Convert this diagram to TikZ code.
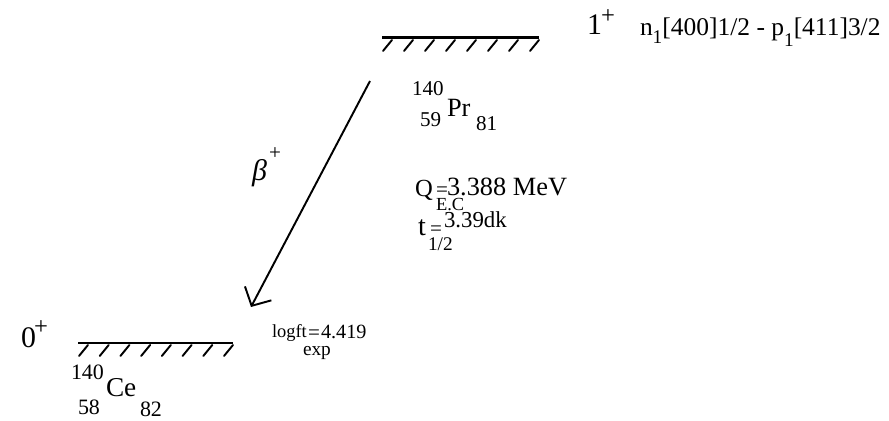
\documentclass[tikz,border=0pt]{standalone}
\usepackage{fontspec}
\setmainfont{Liberation Serif}
\usetikzlibrary{arrows.meta}
\newcommand{\fs}[1]{\fontsize{#1}{#1}\selectfont}

\begin{document}
\begin{tikzpicture}[
    x=0.02cm, y=-0.02cm,
    level/.style={line width=1.7pt},
    hatch/.style={line width=1.1pt, line cap=round},
    decay/.style={line width=1.1pt, -{Straight Barb[length=8pt,width=17pt,line width=1.1pt]}},
    lbl/.style={anchor=base west, inner sep=0pt, outer sep=0pt},
  ]
  \useasboundingbox (0,0) rectangle (889,421);

  % ---------------------------------------------------------------- levels
  % #1 = name, #2 = left x, #3 = right x, #4 = y
  \newcommand{\lvl}[4]{
    \coordinate (#1L) at (#2,#4);
    \coordinate (#1R) at (#3,#4);
    \draw[level] (#1L) -- (#1R);
    \pgfmathsetmacro{\dx}{(#3-#2-10)/7}
    \foreach \k in {0,...,7}
      \draw[hatch] (#2+\k*\dx+10,#4+2) -- ++(-9,11);
  }
  \lvl{pr}{382}{539}{38}
  \lvl{ce}{78}{233}{343}

  % ---------------------------------------------------------------- decay
  \coordinate (from) at (370,81);
  \coordinate (to) at (251,307);
  \draw[decay] (from) -- (to);
  \node[lbl] (beta) at (252,181) {\fs{17}\itshape β};
  \node[lbl] (betap) at (269,160) {\fs{12}+};

  % ---------------------------------------------------------------- parent
  \node[lbl] (spin1) at (587,35) {\fs{17}1};
  \node[lbl] (spin1p) at (601,24) {\fs{14}+};
  \node[lbl] (conf) at (640,36) {\fs{14.5}n\raisebox{-4pt}{\fs{11}1}[400]1/2 - p\raisebox{-6pt}{\fs{11}1}[411]3/2};
  \node[lbl] (prA) at (412,96) {\fs{12}140};
  \node[lbl] (prX) at (447,117) {\fs{15}Pr};
  \node[lbl] (prZ) at (420,127) {\fs{12}59};
  \node[lbl] (prN) at (476,131) {\fs{12}81};

  % ---------------------------------------------------------------- data
  \node[lbl] (q) at (415,197) {\fs{14}Q};
  \node[lbl] (qeq) at (436,197) {\fs{12}=};
  \node[lbl] (qval) at (447,196) {\fs{15}3.388 MeV};
  \node[lbl] (ec) at (436,211) {\fs{10.5}E.C};
  \node[lbl] (t) at (418,236) {\fs{16}t};
  \node[lbl] (thalf) at (428,251) {\fs{11}1/2};
  \node[lbl] (teq) at (430,236) {\fs{12}=};
  \node[lbl] (tval) at (444,228) {\fs{13}3.39dk};
  \node[lbl] (logft) at (272,338) {\fs{10.5}logft};
  \node[lbl] (logeq) at (308,340) {\fs{12}=};
  \node[lbl] (logval) at (321,339) {\fs{11.5}4.419};
  \node[lbl] (exp) at (303,356) {\fs{11}exp};

  % ---------------------------------------------------------------- daughter
  \node[lbl] (spin0) at (21,348) {\fs{17}0};
  \node[lbl] (spin0p) at (34,335) {\fs{14}+};
  \node[lbl] (ceA) at (71,380) {\fs{12.5}140};
  \node[lbl] (ceX) at (106,397) {\fs{15.5}Ce};
  \node[lbl] (ceZ) at (78,415) {\fs{12.5}58};
  \node[lbl] (ceN) at (140,417) {\fs{12.5}82};
\end{tikzpicture}
\end{document}
